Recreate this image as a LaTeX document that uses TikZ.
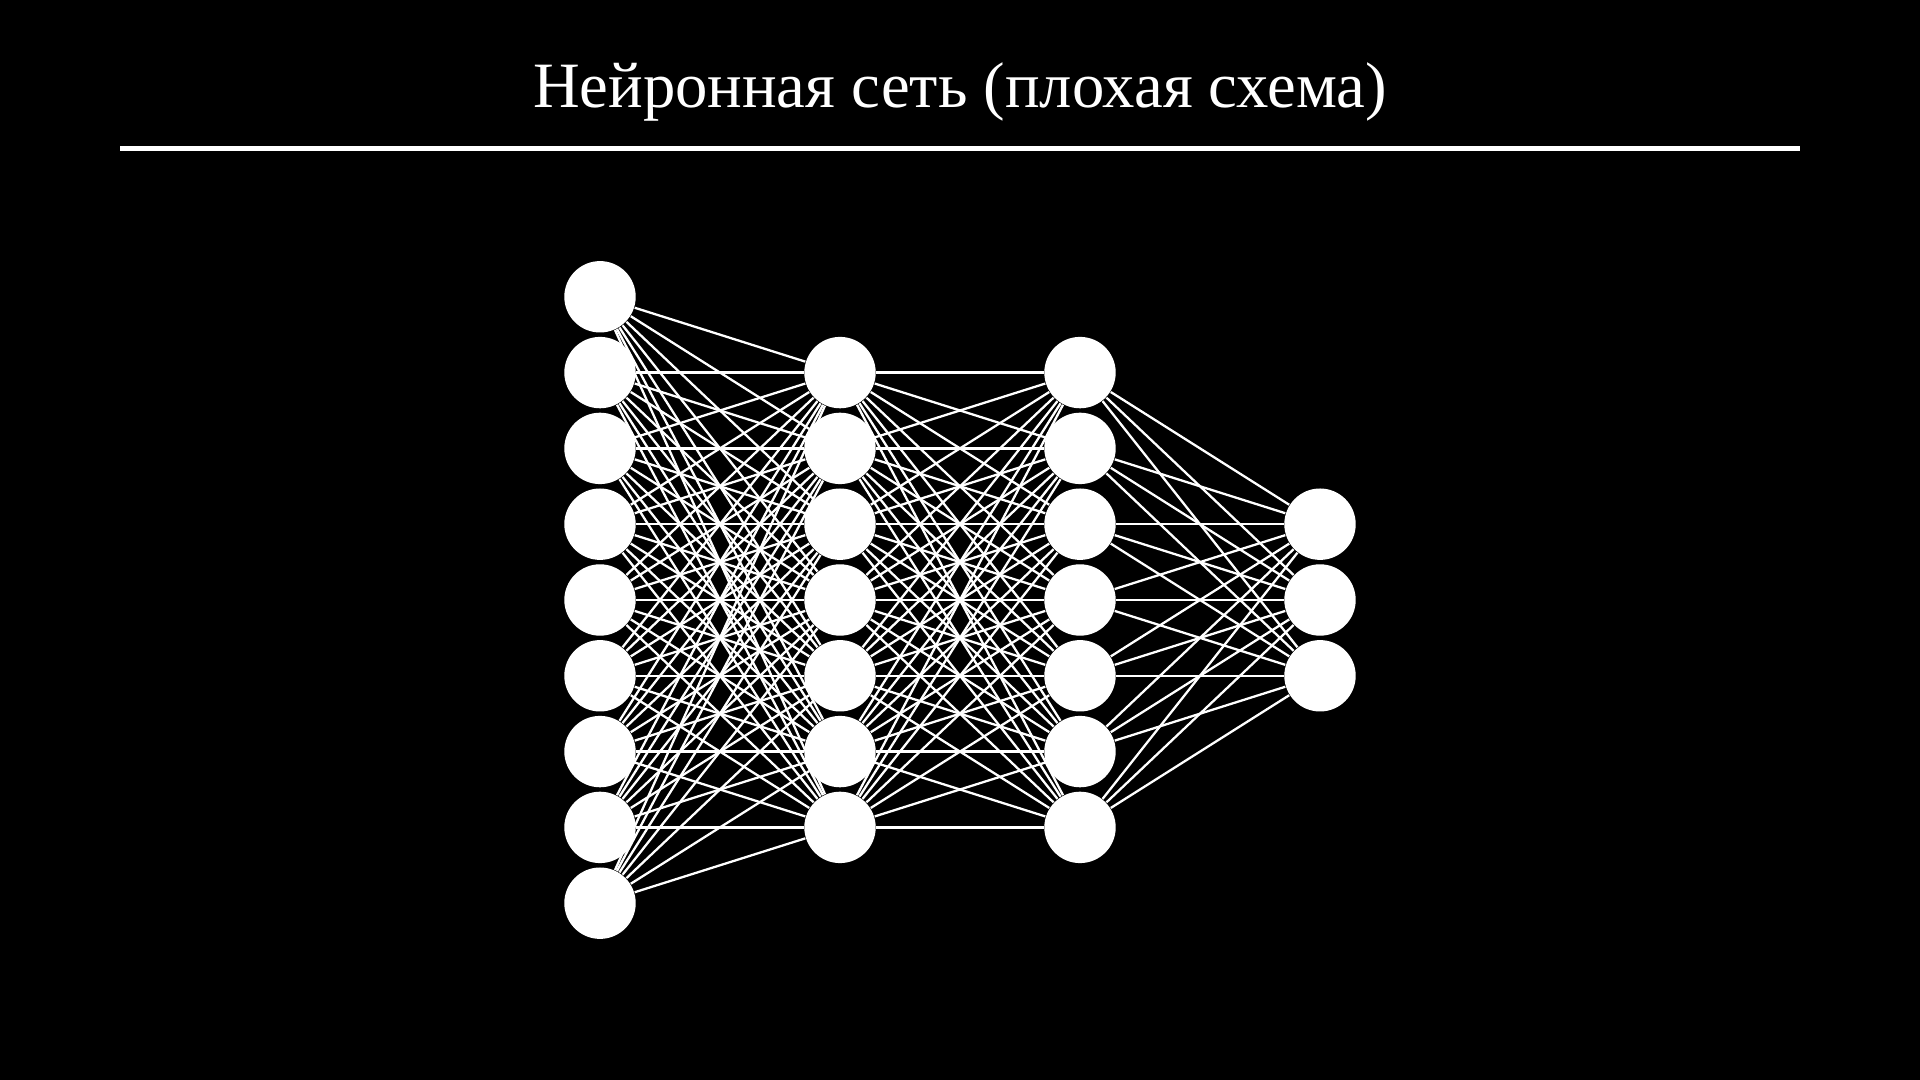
\documentclass[tikz,border=0pt]{standalone}
\usepackage{fontspec}
\setmainfont{Liberation Serif}
\tikzset{
  neuron/.style={circle, fill=white, inner sep=0pt, minimum size=0.714cm},
  link/.style={white, line width=0.65pt}
}
\begin{document}
\begin{tikzpicture}
\fill[black] (0,0) rectangle (19.2,10.8);
\useasboundingbox (0,0) rectangle (19.2,10.8);

\node[white, anchor=base, font=\fontsize{18.4}{22}\selectfont] (title) at (9.6,9.72) {Нейронная сеть (плохая схема)};
\coordinate (ruleL) at (1.2,9.315);
\coordinate (ruleR) at (18.0,9.315);
\draw[white, line width=1.2pt] (ruleL)--(ruleR);

% layers
\foreach \i in {1,...,9} \node[neuron] (a\i) at (6.0,{4.8-(\i-5)*0.758}) {};
\foreach \i in {1,...,7} \node[neuron] (b\i) at (8.4,{4.8-(\i-4)*0.758}) {};
\foreach \i in {1,...,7} \node[neuron] (c\i) at (10.8,{4.8-(\i-4)*0.758}) {};
\foreach \i in {1,...,3} \node[neuron] (d\i) at (13.2,{4.8-(\i-2)*0.758}) {};

% connections
\foreach \i in {1,...,9} \foreach \j in {1,...,7} \draw[link] (a\i)--(b\j);
\foreach \i in {1,...,7} \foreach \j in {1,...,7} \draw[link] (b\i)--(c\j);
\foreach \i in {1,...,7} \foreach \j in {1,...,3} \draw[link] (c\i)--(d\j);
\end{tikzpicture}
\end{document}
